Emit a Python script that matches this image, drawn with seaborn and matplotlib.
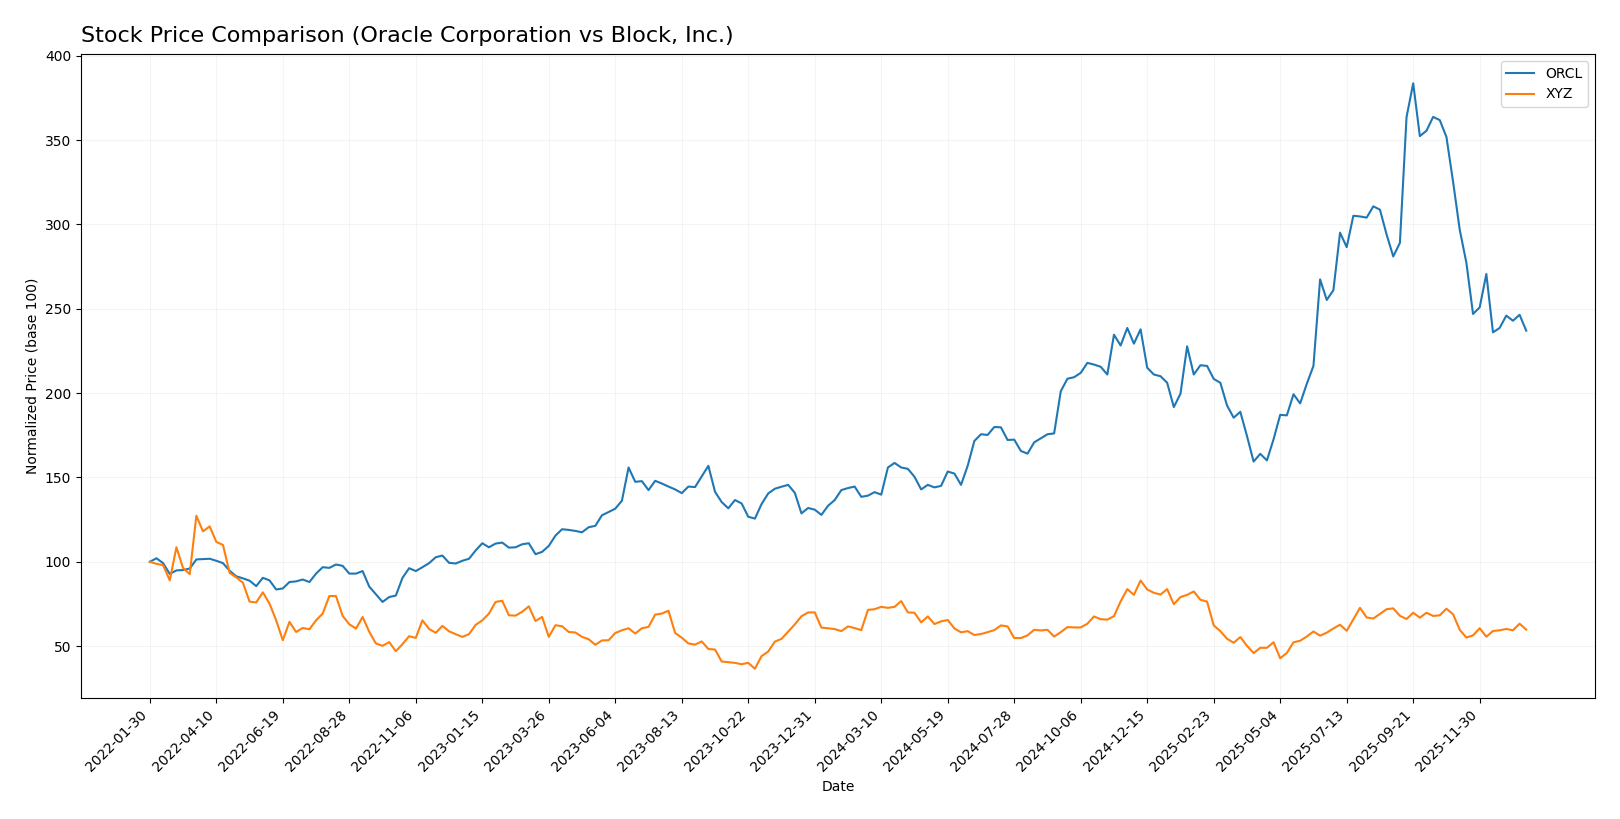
import pandas as pd
import matplotlib
matplotlib.use("Agg")
import matplotlib.pyplot as plt
import matplotlib.dates as mdates
import seaborn as sns

# weekly closes, normalized to 100 at the first week
start_date = "2022-01-30"
n_weeks = 208

orcl = [
    100.0, 102.1, 99.2, 92.8, 94.9, 95.1, 96.0, 101.4, 101.6, 101.8,
    100.6, 99.2, 94.7, 91.4, 90.2, 88.8, 85.6, 90.5, 89.0, 83.6,
    84.2, 88.0, 88.4, 89.5, 88.0, 93.0, 96.8, 96.4, 98.4, 97.6,
    93.0, 93.0, 94.5, 85.3, 80.7, 76.2, 79.1, 80.0, 90.5, 96.2,
    94.5, 96.8, 99.2, 102.7, 103.7, 99.4, 99.0, 100.6, 101.8, 106.7,
    111.0, 108.6, 110.8, 111.4, 108.4, 108.6, 110.4, 111.0, 104.5, 105.9,
    109.4, 115.5, 119.3, 118.9, 118.3, 117.5, 120.5, 121.3, 127.6, 129.5,
    131.5, 136.2, 155.9, 147.4, 147.8, 142.5, 148.0, 146.4, 144.6, 142.9,
    140.7, 144.6, 144.3, 150.6, 156.9, 141.5, 135.4, 131.7, 136.6, 134.6,
    126.7, 125.6, 134.2, 140.5, 143.3, 144.5, 145.6, 140.9, 128.7, 131.9,
    130.9, 127.8, 133.2, 136.6, 142.5, 143.7, 144.6, 138.5, 139.2, 141.3,
    139.8, 155.9, 158.6, 155.9, 155.1, 150.4, 142.9, 145.6, 144.1, 145.0,
    153.5, 152.3, 145.6, 156.9, 171.6, 175.6, 175.2, 179.9, 179.7, 172.2,
    172.4, 165.7, 164.1, 170.8, 173.2, 175.6, 176.1, 201.1, 208.5, 209.4,
    212.0, 217.9, 216.9, 215.6, 211.0, 234.6, 228.2, 238.6, 229.3, 237.8,
    215.0, 211.0, 210.0, 206.1, 191.7, 199.6, 227.7, 211.0, 216.5, 216.1,
    208.4, 206.1, 192.7, 185.4, 188.9, 174.6, 159.4, 164.0, 160.1, 172.6,
    187.1, 186.8, 199.3, 193.9, 205.5, 216.1, 267.4, 255.2, 261.0, 295.1,
    286.5, 305.1, 304.7, 304.0, 310.7, 308.7, 294.0, 281.0, 289.0, 363.6,
    383.6, 352.3, 355.5, 363.7, 361.8, 351.8, 325.2, 296.8, 277.2, 246.9,
    250.8, 270.6, 236.0, 238.6, 245.9, 242.9, 246.4, 237.0,
]

xyz = [
    100.0, 98.8, 98.0, 89.0, 108.6, 96.3, 92.7, 127.3, 118.0, 121.0,
    111.8, 110.0, 93.4, 90.8, 87.6, 76.4, 75.9, 81.9, 75.2, 65.3,
    53.5, 64.4, 58.4, 60.8, 60.0, 65.3, 69.3, 79.7, 79.7, 67.9,
    63.0, 60.4, 67.3, 58.5, 51.6, 50.2, 52.4, 47.0, 51.2, 55.9,
    54.9, 65.3, 60.2, 57.9, 62.0, 58.8, 57.1, 55.5, 57.1, 62.6,
    65.3, 69.3, 76.2, 76.9, 68.3, 68.1, 70.4, 73.6, 64.9, 67.3,
    55.5, 62.4, 61.8, 58.4, 58.1, 55.5, 54.1, 50.8, 53.4, 53.5,
    57.8, 59.4, 60.6, 57.5, 60.6, 61.4, 68.7, 69.3, 71.0, 57.8,
    55.0, 51.6, 50.9, 52.8, 48.3, 48.0, 40.9, 40.5, 40.1, 39.3,
    40.1, 36.6, 44.1, 46.8, 52.7, 54.3, 58.6, 62.9, 67.7, 70.0,
    70.0, 61.0, 60.6, 60.1, 58.9, 61.7, 60.7, 59.5, 71.5, 71.9,
    73.3, 72.7, 73.3, 76.7, 70.0, 69.8, 64.1, 67.6, 63.1, 64.7,
    65.5, 60.5, 58.2, 58.9, 56.6, 57.2, 58.3, 59.5, 62.3, 61.7,
    54.8, 54.8, 56.4, 59.7, 59.3, 59.7, 55.7, 58.3, 61.3, 61.1,
    61.1, 63.3, 67.6, 66.0, 65.7, 67.8, 76.5, 83.8, 80.4, 88.9,
    83.6, 81.6, 80.6, 83.8, 74.9, 79.1, 80.4, 82.4, 77.5, 76.4,
    62.3, 58.9, 54.4, 52.0, 55.4, 50.2, 45.9, 49.0, 49.0, 52.3,
    42.8, 46.0, 52.3, 53.2, 55.7, 58.7, 56.2, 58.0, 60.5, 62.7,
    59.1, 65.9, 72.7, 67.0, 66.4, 69.1, 71.9, 72.4, 68.0, 66.1,
    69.8, 66.9, 69.8, 67.9, 68.3, 72.2, 68.9, 59.7, 55.1, 56.4,
    60.6, 55.6, 59.0, 59.4, 60.2, 59.4, 63.3, 59.8,
]

tick_labels = [
    "2022-01-30", "2022-04-10", "2022-06-19", "2022-08-28", "2022-11-06",
    "2023-01-15", "2023-03-26", "2023-06-04", "2023-08-13", "2023-10-22",
    "2023-12-31", "2024-03-10", "2024-05-19", "2024-07-28", "2024-10-06",
    "2024-12-15", "2025-02-23", "2025-05-04", "2025-07-13", "2025-09-21",
    "2025-11-30",
]

dates = pd.date_range(start_date, periods=n_weeks, freq="W-SUN")
df = pd.DataFrame({"Date": dates, "ORCL": orcl, "XYZ": xyz})

fig, ax = plt.subplots(figsize=(16.2, 8.19), dpi=100)
fig.subplots_adjust(left=0.050, right=0.9846, top=0.934, bottom=0.1477)

sns.lineplot(data=df, x="Date", y="ORCL", ax=ax, color="#1f77b4", label="ORCL", linewidth=1.5)
sns.lineplot(data=df, x="Date", y="XYZ", ax=ax, color="#ff7f0e", label="XYZ", linewidth=1.5)

ax.set_title("Stock Price Comparison (Oracle Corporation vs Block, Inc.)", loc="left", fontsize=16, pad=9)
ax.set_xlabel("Date")
ax.set_ylabel("Normalized Price (base 100)")

ax.set_xticks(pd.to_datetime(tick_labels))
ax.xaxis.set_major_formatter(mdates.DateFormatter("%Y-%m-%d"))
plt.setp(ax.get_xticklabels(), rotation=45, ha="right")

ax.grid(True, alpha=0.3, color="#dddddd")
ax.legend(loc="upper right")

fig.savefig("out.png", dpi=100)
